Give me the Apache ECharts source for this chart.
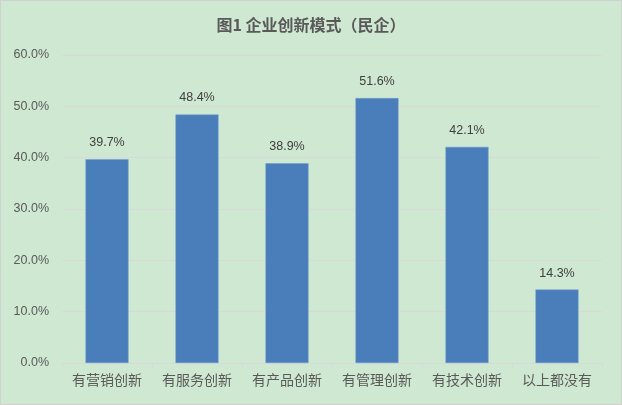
<!DOCTYPE html>
<html><head><meta charset="utf-8">
<script src="https://cdn.jsdelivr.net/npm/echarts@6/dist/echarts.min.js"></script>
<style>
html,body{margin:0;padding:0;background:#fff;}
#c{width:620px;height:403px;border:1px solid #d0d0d0;background:#cfe8d1;}
</style></head>
<body><div id="c"></div>
<script>
const categories = ['有营销创新','有服务创新','有产品创新','有管理创新','有技术创新','以上都没有'];
const values = [39.7, 48.4, 38.9, 51.6, 42.1, 14.3];
const yTicks = [0, 10, 20, 30, 40, 50, 60];

const chart = echarts.init(document.getElementById('c'), null, {renderer:'canvas'});
chart.setOption({
  backgroundColor: '#cfe8d1',
  animation: false,
  title: {
    text: '图1 企业创新模式（民企）',
    left: 'center', top: 11,
    textStyle: {fontFamily: '"Noto Sans CJK SC"', fontSize: 16, fontWeight: 'bold', color: '#595959'}
  },
  grid: {left: 61, right: 19, top: 54, bottom: 41},
  xAxis: {
    type: 'category', data: categories,
    axisLine: {lineStyle: {color: '#d9d9d9'}},
    axisTick: {show: true, length: 5, lineStyle: {color: '#d9d9d9'}},
    axisLabel: {interval: 0, hideOverlap: false, fontFamily: '"Noto Sans CJK SC"', fontSize: 14, color: '#595959', margin: 10}
  },
  yAxis: {
    type: 'value', min: yTicks[0], max: yTicks[yTicks.length-1], interval: 10,
    axisLine: {show: false}, axisTick: {show: false},
    splitLine: {lineStyle: {color: '#d9d9d9'}},
    axisLabel: {fontFamily: '"Liberation Sans", sans-serif', fontSize: 12.5, color: '#595959', margin: 13,
      formatter: v => v.toFixed(1) + '%'}
  },
  series: [{
    type: 'bar', data: values, barWidth: 43,
    itemStyle: {color: '#4a7ebb', borderColor: '#6f9bd0', borderWidth: 0.5},
    label: {show: true, position: 'top', distance: 10,
      fontFamily: '"Liberation Sans", sans-serif', fontSize: 12.5, color: '#404040',
      formatter: p => p.value.toFixed(1) + '%'}
  }]
});
</script></body></html>
